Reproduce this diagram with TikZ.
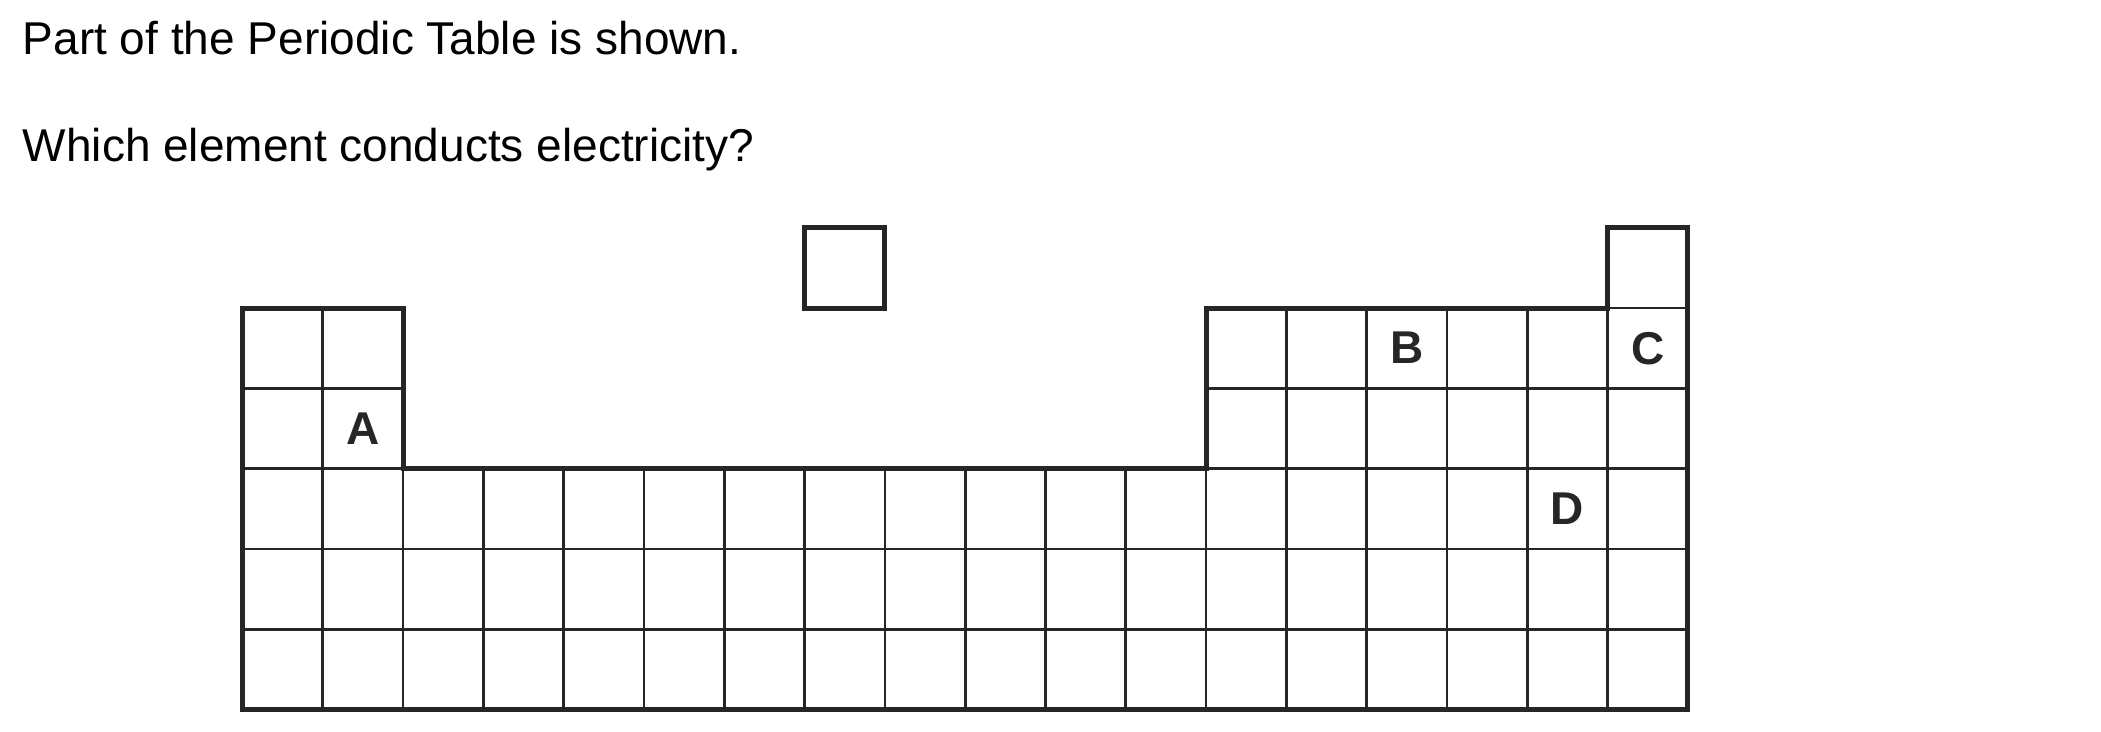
\documentclass[tikz,border=0pt]{standalone}
\usepackage{fontspec}
\setmainfont{Liberation Sans}
\definecolor{ink}{HTML}{262626}

\begin{document}
\begin{tikzpicture}[x=40.15pt,y=40.15pt]

\useasboundingbox (-3.02,-0.268) rectangle (23.145,8.836);

\tikzstyle{every node}=[inner sep=0pt,text=black,font=\fontsize{23}{27}\selectfont];
\tikzstyle{cell line}=[draw=ink,line width=1.35pt];
\tikzstyle{border line}=[draw=ink,line width=2.5pt,line join=miter];

% Question text
\node[anchor=base west] (line1) at (-2.74,8.16) {Part of the Periodic Table is shown.};
\node[anchor=base west] (line2) at (-2.74,6.83) {Which element conducts electricity?};

% Draw the cells
\path[cell line,step={(1,1)}] (0,0) grid (18,3) (0,3) grid (2,5) (12,3) grid (18,5) (17,5) grid (18,6);

% Draw the outline
\path[border line] (0,0) -- (18,0) -- (18,6) -- (17,6) -- (17,5) -- (12,5)
  -- (12,3) -- (2,3) -- (2,5) -- (0,5) -- cycle;
\path[border line] (7,5) rectangle (8,6);

% Element letters
\tikzset{every node/.append style={text=ink,font=\fontsize{23}{27}\selectfont\bfseries}};
\node (elA) at (1.5,3.5) {A};
\node (elB) at (14.5,4.5) {B};
\node (elC) at (17.5,4.5) {C};
\node (elD) at (16.5,2.5) {D};

\end{tikzpicture}
\end{document}
